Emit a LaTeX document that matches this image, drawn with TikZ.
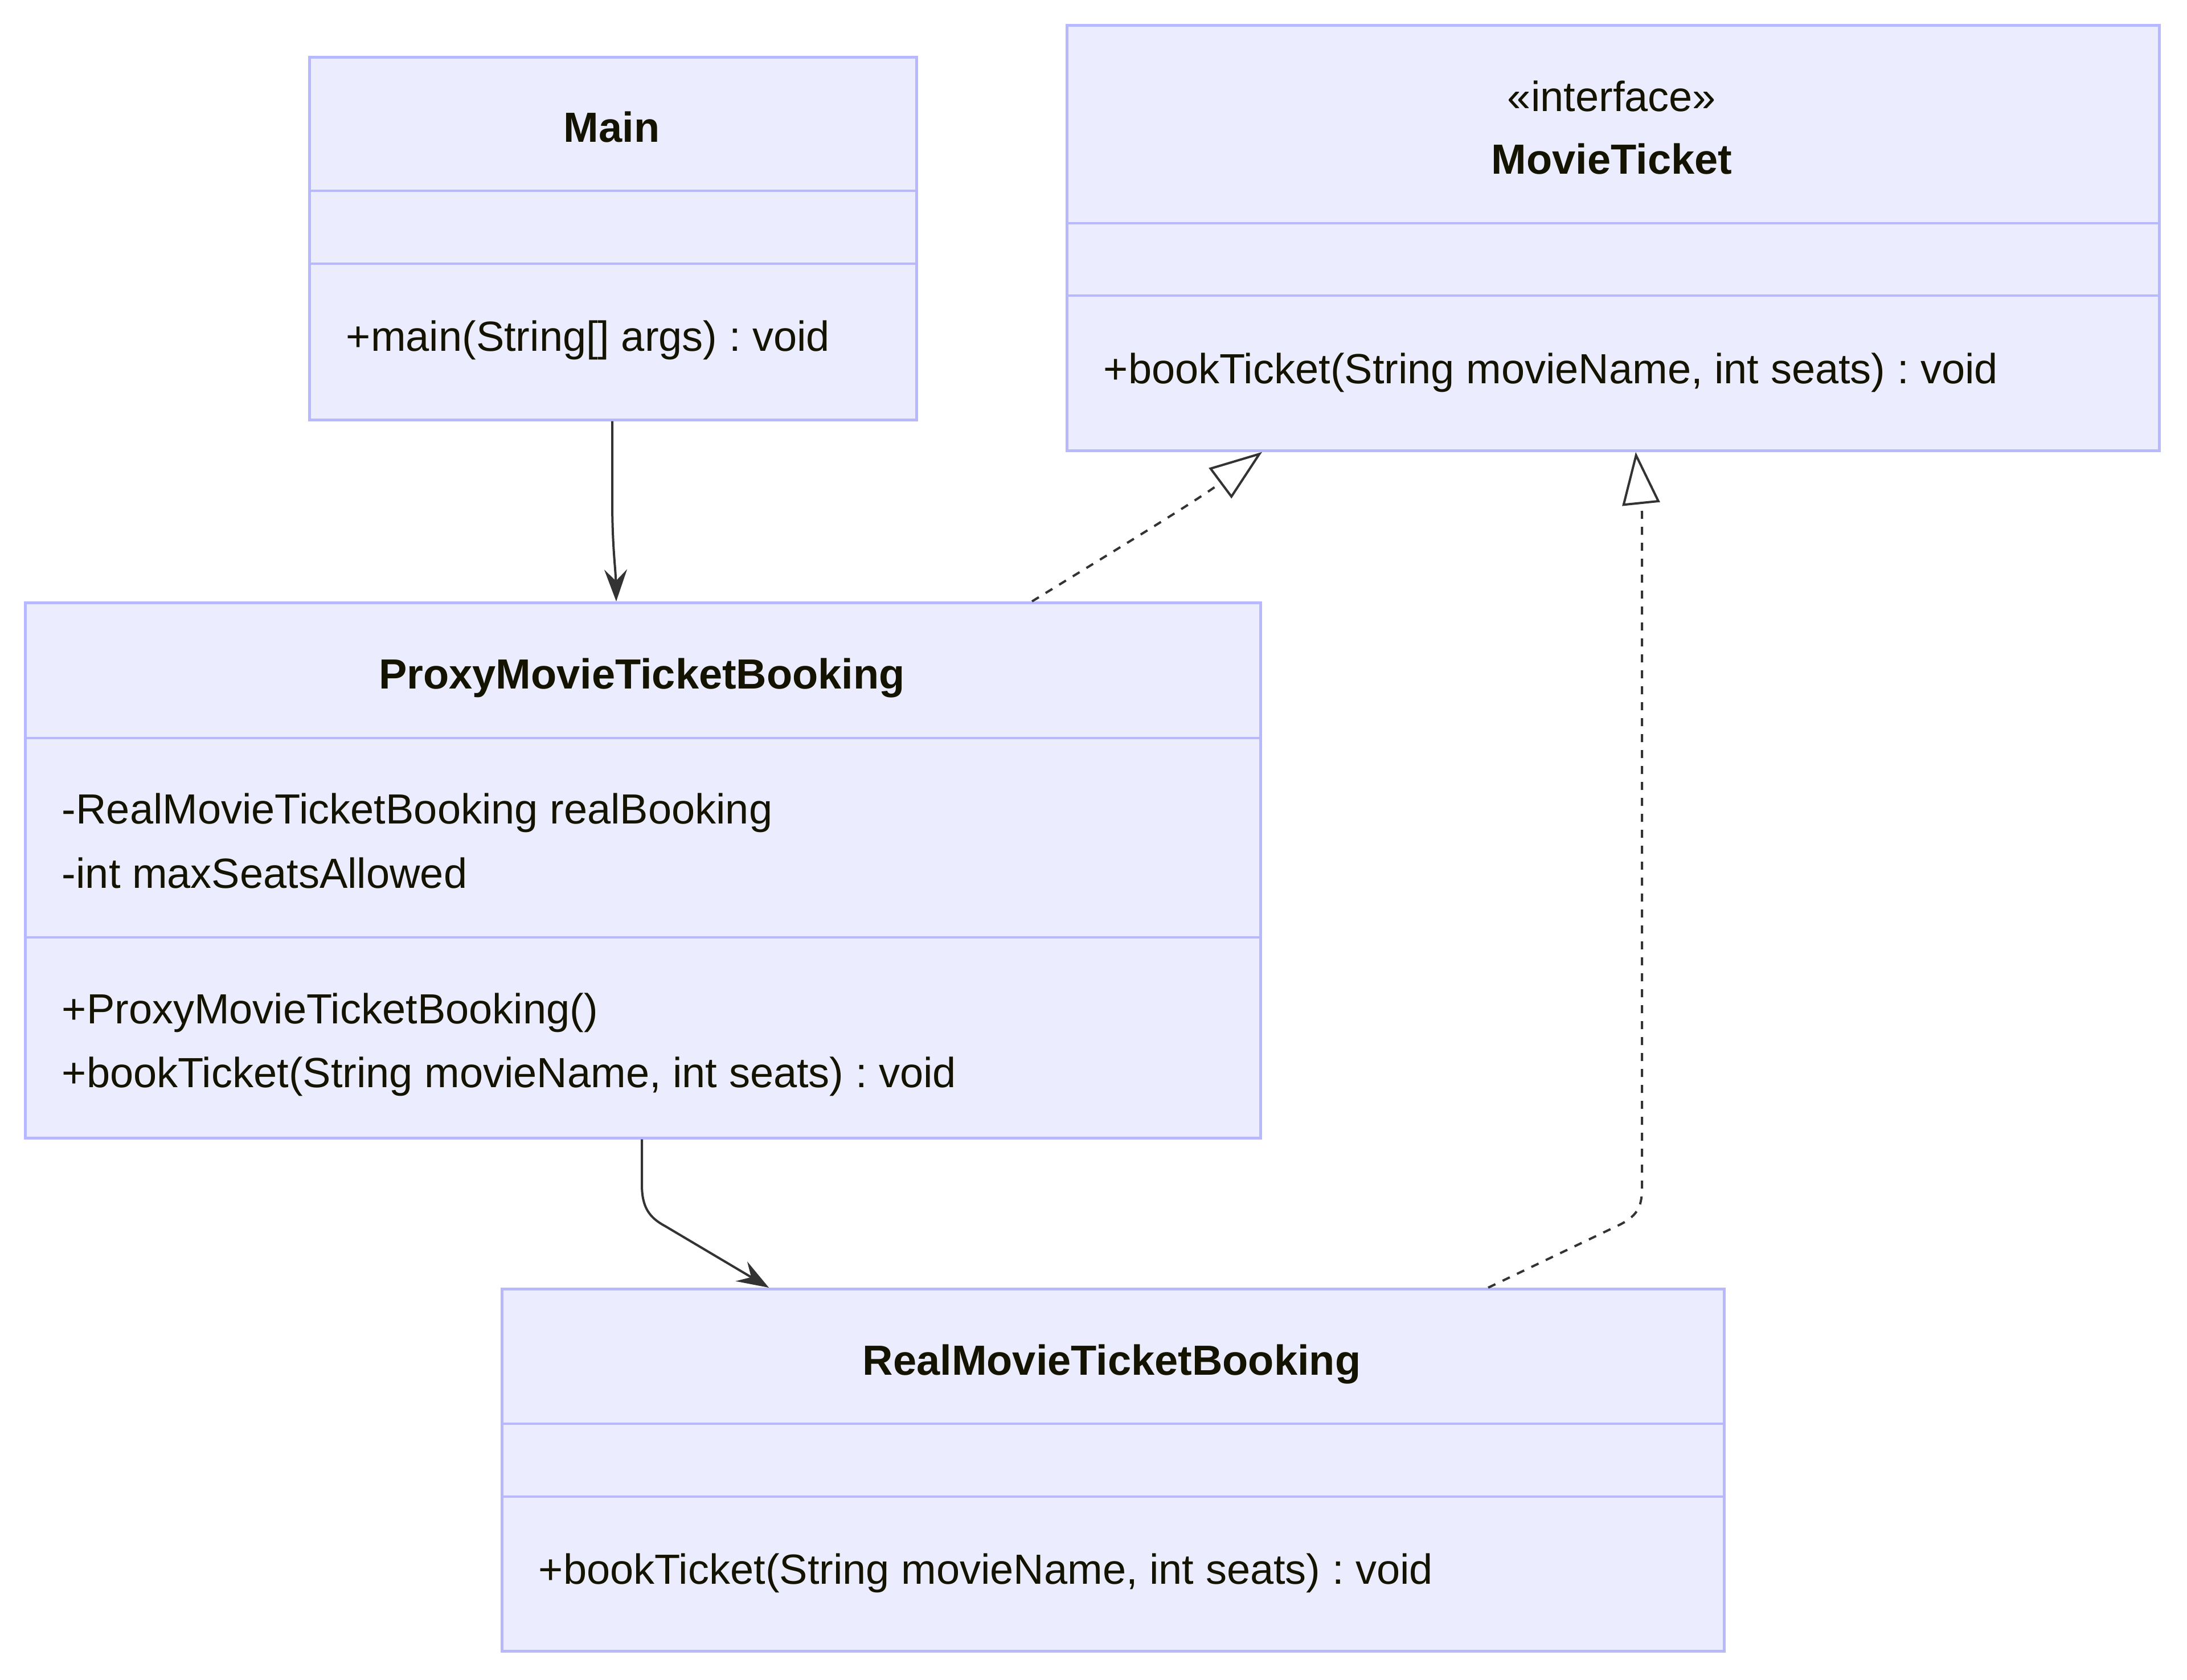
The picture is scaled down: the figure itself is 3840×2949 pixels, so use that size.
\documentclass[tikz,border=0pt]{standalone}
\usepackage{fontspec}
\setmainfont{Liberation Sans}
\usetikzlibrary{arrows.meta}
\frenchspacing
\definecolor{boxfill}{HTML}{ECECFF}
\definecolor{boxline}{RGB}{184,184,254}
\definecolor{txt}{HTML}{131300}
\definecolor{edgec}{HTML}{333333}
\tikzset{
  classbox/.style={draw=boxline, fill=boxfill, line width=1.15pt, inner sep=0pt, anchor=north west},
  divider/.style={draw=boxline, line width=1.15pt},
  member/.style={anchor=base west, inner sep=0pt, font=\fontsize{18.5pt}{22pt}\selectfont, text=txt},
  ctitle/.style={anchor=base, inner sep=0pt, font=\fontsize{18.5pt}{22pt}\selectfont\bfseries, text=txt},
  stereo/.style={anchor=base, inner sep=0pt, font=\fontsize{18.5pt}{22pt}\selectfont, text=txt},
  edgeline/.style={draw=edgec, line width=1pt},
  assoc/.style={edgeline, -{Stealth[length=14pt, width=10pt, inset=5pt]}},
  realize/.style={edgeline, dash pattern=on 3.5pt off 3.5pt, -{Triangle[open, length=23pt, width=16.5pt, fill=white]}}
}
\begin{document}
\begin{tikzpicture}[x=0.25pt, y=-0.25pt]
\useasboundingbox (0,0) rectangle (3840,2949);
\fill[white] (0,0) rectangle (3840,2949);

% Main
\node[classbox, minimum width=1066*0.25pt, minimum height=637*0.25pt] (main) at (541,98) {};
\draw[divider] (main.west |- 0,335) -- (main.east |- 0,335);
\draw[divider] (main.west |- 0,463) -- (main.east |- 0,463);
\node[ctitle] (mainT) at (1074,249) {Main};
\node[member] (mainM) at (607,616) {+main(String[] args) : void};

% MovieTicket
\node[classbox, minimum width=1918*0.25pt, minimum height=747*0.25pt] (mt) at (1871,42) {};
\draw[divider] (mt.west |- 0,392) -- (mt.east |- 0,392);
\draw[divider] (mt.west |- 0,519) -- (mt.east |- 0,519);
\node[stereo] (mtS) at (2830,195) {«interface»};
\node[ctitle] (mtT) at (2830,305) {MovieTicket};
\node[member] (mtM) at (1937,673) {+bookTicket(String movieName, int seats) : void};

% ProxyMovieTicketBooking
\node[classbox, minimum width=2169*0.25pt, minimum height=940*0.25pt] (proxy) at (42,1056) {};
\draw[divider] (proxy.west |- 0,1296) -- (proxy.east |- 0,1296);
\draw[divider] (proxy.west |- 0,1646) -- (proxy.east |- 0,1646);
\node[ctitle] (proxyT) at (1127,1209) {ProxyMovieTicketBooking};
\node[member] (proxyA1) at (108,1446) {-RealMovieTicketBooking realBooking};
\node[member] (proxyA2) at (108,1559) {-int maxSeatsAllowed};
\node[member] (proxyM1) at (108,1797) {+ProxyMovieTicketBooking()};
\node[member] (proxyM2) at (108,1909) {+bookTicket(String movieName, int seats) : void};

% RealMovieTicketBooking
\node[classbox, minimum width=2146*0.25pt, minimum height=636*0.25pt] (real) at (879,2261) {};
\draw[divider] (real.west |- 0,2500) -- (real.east |- 0,2500);
\draw[divider] (real.west |- 0,2628) -- (real.east |- 0,2628);
\node[ctitle] (realT) at (1952,2414) {RealMovieTicketBooking};
\node[member] (realM) at (945,2781) {+bookTicket(String movieName, int seats) : void};

% connectors
\draw[assoc] (1075,0 |- main.south) -- (1075,880) .. controls (1075,960) and (1081,1000) .. (1082,0 |- proxy.north);
\draw[realize] (1812,0 |- proxy.north) .. controls (1960,965) and (2100,880) .. (2216,0 |- mt.south);
\draw[assoc] (1127,0 |- proxy.south) -- (1127,2080) .. controls (1127,2120) and (1140,2138) .. (1168,2153) -- (1350,0 |- real.north);
\draw[realize] (2613,0 |- real.north) -- (2845,2150) .. controls (2878,2133) and (2883,2115) .. (2883,2085) -- (2883,900) -- (2872,0 |- mt.south);
\end{tikzpicture}
\end{document}
